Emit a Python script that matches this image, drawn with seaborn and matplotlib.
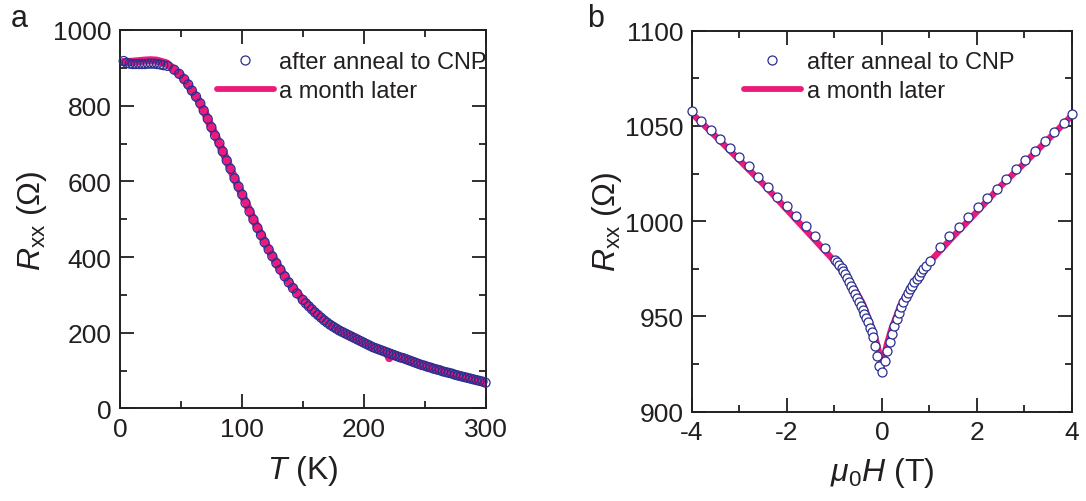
import numpy as np
import pandas as pd
import matplotlib
matplotlib.use("Agg")
import matplotlib.pyplot as plt
from matplotlib.lines import Line2D
from matplotlib.ticker import MultipleLocator
import seaborn as sns

# ---------------- data: panel a (R_xx vs T) ----------------
T_anneal = [3, 5.5, 8, 10.5, 13, 15.5, 18, 20.5, 23, 25.5, 28, 30.5, 33, 35.5,
            39, 44.5, 48.6, 52.7, 56, 59, 62.4, 65.9, 68.7, 72, 75, 78, 81.6, 84.3,
            87.6, 90.7, 94, 97.3, 100.3, 103, 106.3, 109.5, 112.8, 115.7, 118.7, 122,
            125, 128.3, 131.6, 135.2, 138.5, 142, 145.3,
            150, 152.5, 155, 157.5, 160, 162.5, 165, 167.5, 170, 172.5, 175, 177.5,
            180, 182.5, 185, 187.5, 190, 192.5, 195, 197.5, 200, 202.5, 205, 207.5,
            210, 212.5, 215, 217.5, 220, 222.5, 225, 227.5, 230, 232.5, 235, 237.5,
            240, 242.5, 245, 247.5, 250, 252.5, 255, 257.5, 260, 262.5, 265, 267.5,
            270, 272.5, 275, 277.5, 280, 282.5, 285, 287.5, 290, 292.5, 295, 297.5, 300]
R_anneal = [918, 913, 911, 910, 910, 910, 910, 910, 911, 911, 911, 910, 909, 907,
            905, 895, 884, 870, 856, 840, 824, 806, 787, 765, 743, 721, 701, 679,
            655, 633, 608, 586, 565, 543, 520, 499, 477, 458, 439, 420,
            402, 384, 367, 349, 333, 318, 304,
            287, 278, 270, 262, 254, 247, 240, 233, 227, 221, 216, 211,
            206, 202, 198, 194, 190, 186, 182, 178, 174, 170, 166, 162,
            159, 156, 153, 150, 147, 144, 141, 138, 135, 133, 130, 127,
            124, 121, 118, 115, 113, 110, 108, 105, 103, 101, 98, 96,
            94, 92, 89, 87, 85, 83, 81, 79, 77, 75, 73, 71, 68]

T_month = [2, 10, 20, 25, 30, 38, 45, 50, 55, 60, 65, 70, 75, 80, 85, 90, 95, 100,
           110, 120, 130, 140, 150, 160, 170, 180, 190, 200, 210, 219, 221, 223,
           230, 240, 250, 260, 270, 280, 290, 300]
R_month = [915, 916, 919, 920, 919, 912, 894, 880, 860, 835, 811, 779, 743, 710,
           674, 638, 601, 567, 496, 432, 375, 327, 287, 254, 227, 206, 190, 174,
           159, 148, 133, 144, 135, 124, 113, 103, 94, 85, 77, 68]

# ---------------- data: panel b (R_xx vs mu0 H) ----------------
H_anneal = [-4.0, -3.8, -3.6, -3.4, -3.2, -3.0, -2.8, -2.6, -2.4, -2.2, -2.0, -1.8,
            -1.6, -1.4, -1.2,
            -0.99, -0.94, -0.90, -0.85, -0.82, -0.77, -0.73, -0.69, -0.65, -0.60,
            -0.57, -0.53, -0.48, -0.45, -0.41, -0.37, -0.34, -0.29, -0.25, -0.22,
            -0.18, -0.15, -0.10, -0.06, 0.00,
            0.06, 0.11, 0.17, 0.22, 0.26, 0.31, 0.36, 0.40, 0.45, 0.50, 0.54, 0.59,
            0.64, 0.68, 0.73, 0.78, 0.82, 0.87, 0.92, 1.01,
            1.22, 1.42, 1.62, 1.82, 2.02, 2.22, 2.42, 2.62, 2.82, 3.02, 3.22, 3.43,
            3.63, 3.83, 4.0]
R_H_anneal = [1058.0, 1052.7, 1048.0, 1043.1, 1038.4, 1033.5, 1028.8, 1023.1,
              1017.7, 1012.5, 1007.8, 1002.5, 997.3, 992.0, 986.0,
              979.6, 978.4, 977.0, 975.4, 974.0, 972.2, 970.1, 968.2, 966.1, 964.0,
              961.9, 959.8, 957.4, 955.6, 953.5, 951.3, 949.2, 946.9, 943.7, 941.6,
              939.0, 934.6, 929.4, 924.1, 921.0,
              926.8, 932.0, 936.4, 940.8, 945.1, 948.6, 951.8, 954.8, 957.4, 960.0,
              962.3, 964.4, 966.1, 967.9, 969.6, 971.4, 973.1, 974.9, 976.6, 979.2,
              986.4, 992.0, 997.1, 1002.3, 1007.2, 1012.1, 1016.8, 1022.3, 1027.3,
              1032.2, 1037.1, 1042.2, 1046.9, 1051.8, 1056.3]

H_month = [-4.0, -3.5, -3.0, -2.5, -2.0, -1.5, -1.0, -0.8, -0.6, -0.4, -0.2, -0.1,
           0.0, 0.1, 0.2, 0.4, 0.6, 0.8, 1.0, 1.5, 2.0, 2.5, 3.0, 3.5, 4.0]
R_H_month = [1056.5, 1044.5, 1032.0, 1019.5, 1006.0, 992.5, 979.0, 972.5, 965.5,
             956.5, 943.5, 935.0, 924.0, 935.0, 943.5, 956.5, 965.5, 972.5, 978.5,
             992.0, 1005.0, 1018.5, 1030.5, 1043.0, 1055.5]

labels = ["after anneal to CNP", "a month later"]

# ---------------- style ----------------
sns.set_theme(style="ticks")
plt.rcParams.update({
    "font.family": ["Liberation Sans", "DejaVu Sans"],
    "mathtext.fontset": "custom",
    "mathtext.rm": "Liberation Sans",
    "mathtext.it": "Liberation Sans:italic",
    "mathtext.bf": "Liberation Sans:bold",
    "axes.unicode_minus": False,
    "axes.edgecolor": "#231f20",
    "axes.linewidth": 1.4,
    "xtick.color": "#231f20",
    "ytick.color": "#231f20",
    "text.color": "#231f20",
    "axes.labelcolor": "#231f20",
})

PINK = "#ec1a7a"
BLUE = "#2b2f8f"
TICKFS = 19
LABFS = 23
LEGFS = 17

fig = plt.figure(figsize=(10.86, 5.02), dpi=100)
axa = fig.add_axes([0.1105, 0.1843, 0.3366, 0.7540])
axb = fig.add_axes([0.6372, 0.1779, 0.3499, 0.7590])

df_a_line = pd.DataFrame({"T": T_month, "R": R_month})
df_a_pts = pd.DataFrame({"T": T_anneal, "R": R_anneal})
df_b_line = pd.DataFrame({"H": H_month, "R": R_H_month})
df_b_pts = pd.DataFrame({"H": H_anneal, "R": R_H_anneal})

# panel a
sns.lineplot(data=df_a_line, x="T", y="R", ax=axa, color=PINK, lw=5.8,
             sort=False, estimator=None, zorder=2)
sns.scatterplot(data=df_a_pts, x="T", y="R", ax=axa, marker="o", s=42,
                facecolor="none", edgecolor=BLUE, linewidth=0.9, zorder=3,
                clip_on=False)
axa.set_xlim(0, 300)
axa.set_ylim(0, 1000)
axa.xaxis.set_major_locator(MultipleLocator(100))
axa.xaxis.set_minor_locator(MultipleLocator(50))
axa.yaxis.set_major_locator(MultipleLocator(200))
axa.yaxis.set_minor_locator(MultipleLocator(100))
axa.set_xlabel("$T$ (K)", fontsize=LABFS, labelpad=9)
axa.set_ylabel("$R_\\mathrm{xx}$ (Ω)", fontsize=LABFS, labelpad=3)

# panel b
sns.lineplot(data=df_b_line, x="H", y="R", ax=axb, color=PINK, lw=4.6,
             sort=False, estimator=None, zorder=2)
sns.scatterplot(data=df_b_pts, x="H", y="R", ax=axb, marker="o", s=42,
                facecolor="white", edgecolor=BLUE, linewidth=0.9, zorder=3,
                clip_on=False)
axb.set_xlim(-4, 4)
axb.set_ylim(900, 1100)
axb.xaxis.set_major_locator(MultipleLocator(2))
axb.xaxis.set_minor_locator(MultipleLocator(1))
axb.yaxis.set_major_locator(MultipleLocator(50))
axb.yaxis.set_minor_locator(MultipleLocator(25))
axb.set_xlabel("$\\mu_\\mathrm{0}H$ (T)", fontsize=LABFS, labelpad=8)
axb.set_ylabel("$R_\\mathrm{xx}$ (Ω)", fontsize=LABFS, labelpad=1)

for ax in (axa, axb):
    ax.tick_params(which="both", direction="in", top=True, right=True,
                   labelsize=TICKFS, width=1.3, pad=6)
    ax.tick_params(which="major", length=10)
    ax.tick_params(which="minor", length=5)
    for s in ax.spines.values():
        s.set_visible(True)

# legends
def make_handles(face):
    h1 = Line2D([], [], ls="none", marker="o", markersize=6.5,
                markerfacecolor=face, markeredgecolor=BLUE, markeredgewidth=0.9)
    h2 = Line2D([], [], color=PINK, lw=4.2)
    return [h1, h2]

axa.legend(make_handles("none"), labels, loc="upper left",
           bbox_to_anchor=(0.265, 0.945), frameon=False, fontsize=LEGFS,
           handlelength=2.4, handletextpad=0.25, labelspacing=0.3,
           borderpad=0, borderaxespad=0)
axb.legend(make_handles("white"), labels, loc="upper left",
           bbox_to_anchor=(0.137, 0.947), frameon=False, fontsize=LEGFS,
           handlelength=2.4, handletextpad=0.25, labelspacing=0.3,
           borderpad=0, borderaxespad=0)

fig.text(0.010, 0.962, "a", fontsize=22, va="center", ha="left")
fig.text(0.541, 0.962, "b", fontsize=22, va="center", ha="left")

fig.savefig("out.png", dpi=100)
